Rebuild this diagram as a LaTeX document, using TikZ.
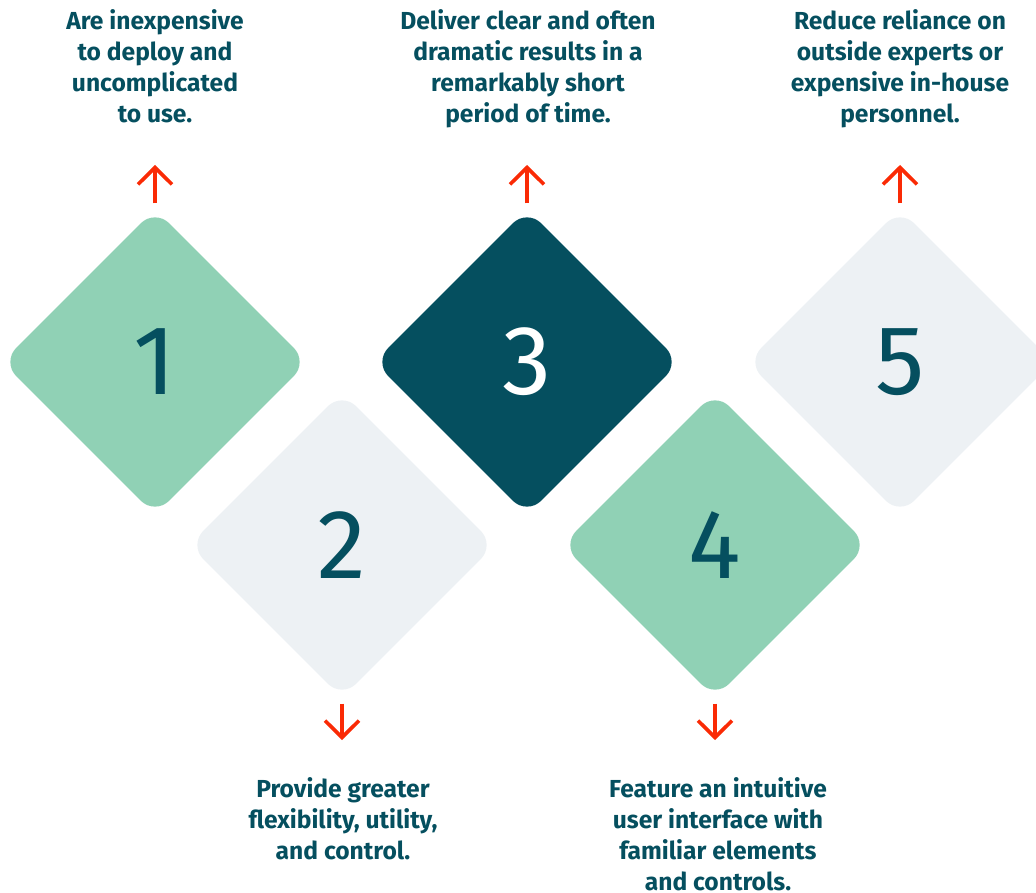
\documentclass[tikz,border=0pt]{standalone}
\usepackage{fontspec}
\setmainfont{Fira Sans}
\usetikzlibrary{shapes.geometric,arrows.meta}
\definecolor{mint}{HTML}{90D1B5}
\definecolor{mist}{HTML}{EDF1F4}
\definecolor{deepteal}{HTML}{054F5F}
\definecolor{arrowred}{HTML}{FA2A05}
\tikzset{
  tile/.style={diamond, aspect=1, minimum size=7.65cm, inner sep=0pt, rounded corners=0.5cm, font=\fontsize{70}{70}\selectfont},
  note/.style={align=center, text=deepteal, inner sep=0pt, anchor=north, font=\bfseries\fontsize{17.5}{22}\selectfont},
  pointer/.style={-{Straight Barb[length=0.42cm,width=0.85cm]}, arrowred, line width=2.6pt, shorten <=0.13cm}
}
\begin{document}
\begin{tikzpicture}[x=0.025cm,y=-0.025cm]
\clip (0,0) rectangle (1036,892);
\def\top{362}
\def\low{545}
\node[tile, fill=mint, text=deepteal] (d1) at (155,\top) {1};
\node[tile, fill=mist, text=deepteal] (d2) at (342,\low) {2};
\node[tile, fill=deepteal, text=white] (d3) at (527,\top) {3};
\node[tile, fill=mint, text=deepteal] (d4) at (715,\low) {4};
\node[tile, fill=mist, text=deepteal] (d5) at (900,\top) {5};

\node[note] (t1) at (155,9) {Are inexpensive\\to deploy and\\uncomplicated\\to use.};
\node[note] (t3) at (528,9) {Deliver clear and often\\dramatic results in a\\remarkably short\\period of time.};
\node[note] (t5) at (900,9) {Reduce reliance on\\outside experts or\\expensive in-house\\personnel.};
\node[note] (t2) at (343,777) {Provide greater\\flexibility, utility,\\and control.};
\node[note] (t4) at (718,777) {Feature an intuitive\\user interface with\\familiar elements\\and controls.};

% arrow ends
\coordinate (u1) at (155,165);
\coordinate (u3) at (527,165);
\coordinate (u5) at (900,165);
\coordinate (v2) at (342,740);
\coordinate (v4) at (715,740);

% arrows
\draw[pointer] (d1.north) -- (u1); % 1 up
\draw[pointer] (d3.north) -- (u3); % 3 up
\draw[pointer] (d5.north) -- (u5); % 5 up
\draw[pointer] (d2.south) -- (v2); % 2 down
\draw[pointer] (d4.south) -- (v4); % 4 down
\end{tikzpicture}
\end{document}
